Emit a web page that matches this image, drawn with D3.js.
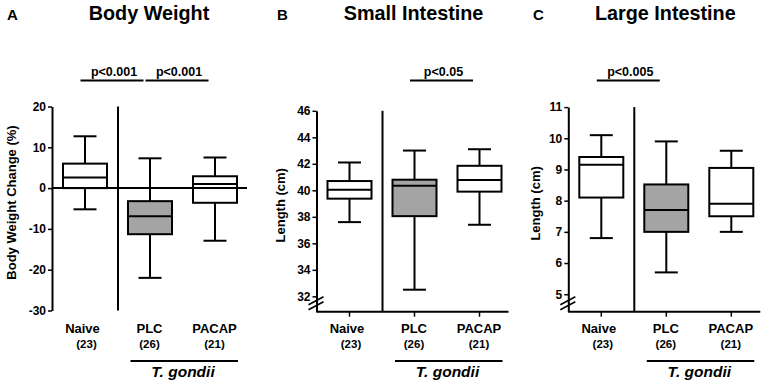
<!DOCTYPE html>
<html><head><meta charset="utf-8">
<script src="https://cdn.jsdelivr.net/npm/d3@7/dist/d3.min.js"></script>
<style>
html,body{margin:0;padding:0;background:#fff;}
svg text{font-family:"Liberation Sans",Arial,sans-serif;font-weight:bold;fill:#000;}
</style></head>
<body>
<svg id="chart" width="765" height="386"></svg>
<script>
// ---- data ----
const categories = ["Naive", "PLC", "PACAP"];
const groupSizes = ["(23)", "(26)", "(21)"];
const infectionLabel = "T. gondii";
// box stats: [whisker low, Q1, median, Q3, whisker high]
const bodyWeightStats = [[-5.2, 0, 2.6, 6.0, 12.7], [-22, -11.3, -6.9, -3.2, 7.3], [-12.9, -3.6, 1.0, 2.9, 7.5]];
const smallIntestineStats = [[37.6, 39.37, 40.05, 40.7, 42.1], [32.5, 38.05, 40.35, 40.8, 43.0], [37.4, 39.9, 40.77, 41.85, 43.1]];
const largeIntestineStats = [[6.8, 8.1, 9.15, 9.4, 10.1], [5.7, 7.0, 7.7, 8.52, 9.9], [7.0, 7.5, 7.9, 9.05, 9.6]];
const bodyWeightTicks = [-30, -20, -10, 0, 10, 20];
const smallIntestineTicks = [32, 34, 36, 38, 40, 42, 44, 46];
const largeIntestineTicks = [5, 6, 7, 8, 9, 10, 11];
const bodyWeightP = [{from: "Naive", to: "PLC", label: "p<0.001"}, {from: "PLC", to: "PACAP", label: "p<0.001"}];
const smallIntestineP = [{from: "PLC", to: "PACAP", label: "p<0.05"}];
const largeIntestineP = [{from: "Naive", to: "PLC", label: "p<0.005"}];
const fills = ["#ffffff", "#a4a4a4", "#ffffff"];

// ---- layout ----
const panels = [
  {letter: "A", title: "Body Weight", ylabel: "Body Weight Change (%)", ax: 52, stats: bodyWeightStats,
   ticks: bodyWeightTicks, domain: [-30, 20], range: [310.5, 106.5], pvals: bodyWeightP, broken: false, letterX: 7, labelOff: 36.5},
  {letter: "B", title: "Small Intestine", ylabel: "Length (cm)", ax: 316.5, stats: smallIntestineStats,
   ticks: smallIntestineTicks, domain: [30.84, 46], range: [311.7, 110.8], pvals: smallIntestineP, broken: true, letterX: 277, labelOff: 31.5},
  {letter: "C", title: "Large Intestine", ylabel: "Length (cm)", ax: 568.3, stats: largeIntestineStats,
   ticks: largeIntestineTicks, domain: [4.44, 11], range: [311.7, 107.1], pvals: largeIntestineP, broken: true, letterX: 533, labelOff: 28.3}
];

const svg = d3.select("#chart");
const W = 195, boxW = 44, capW = 23, sw = 2;

panels.forEach(p => {
  const g = svg.append("g");
  const y = d3.scaleLinear().domain(p.domain).range(p.range);
  const x = d3.scalePoint().domain(categories).range([p.ax, p.ax + W]).padding(0.5);
  const yTop = p.range[1], yBot = p.range[0];
  const cx = c => x(c) + 0.5;

  // panel letter & title
  g.append("text").attr("x", p.letterX).attr("y", 19.5).attr("font-size", 15).text(p.letter);
  g.append("text").attr("x", p.ax + 97).attr("y", 19.5).attr("text-anchor", "middle").attr("font-size", 19.8).text(p.title);

  // y axis
  const yAxis = d3.axisLeft(y).tickValues(p.ticks).tickFormat(d => String(d)).tickSize(4).tickSizeOuter(0).tickPadding(2);
  const ag = g.append("g").attr("transform", `translate(${p.ax},0)`).call(yAxis);
  ag.attr("font-size", 12).attr("font-family", null);
  ag.select(".domain").attr("stroke", "#000").attr("stroke-width", sw);
  ag.selectAll(".tick line").attr("stroke", "#000").attr("stroke-width", 1.5);
  ag.selectAll(".tick text").attr("fill", "#000");

  // y label
  g.append("text").attr("transform", `translate(${p.ax - p.labelOff},${(yTop + yBot) / 2 - 6}) rotate(-90)`)
    .attr("text-anchor", "middle").attr("font-size", 13).text(p.ylabel);

  // divider
  const divX = (x(categories[0]) + x(categories[1])) / 2 + 1;
  g.append("line").attr("x1", divX).attr("x2", divX).attr("y1", yTop).attr("y2", yBot)
    .attr("stroke", "#000").attr("stroke-width", sw);

  // boxes
  p.stats.forEach((s, i) => {
    const c = cx(categories[i]);
    const bg = g.append("g").attr("stroke", "#000").attr("stroke-width", sw);
    bg.append("line").attr("x1", c).attr("x2", c).attr("y1", y(s[4])).attr("y2", y(s[0]));
    bg.append("line").attr("x1", c - capW / 2).attr("x2", c + capW / 2).attr("y1", y(s[4])).attr("y2", y(s[4]));
    bg.append("line").attr("x1", c - capW / 2).attr("x2", c + capW / 2).attr("y1", y(s[0])).attr("y2", y(s[0]));
    bg.append("rect").attr("x", c - boxW / 2).attr("width", boxW).attr("y", y(s[3])).attr("height", y(s[1]) - y(s[3]))
      .attr("fill", fills[i]);
    bg.append("line").attr("x1", c - boxW / 2).attr("x2", c + boxW / 2).attr("y1", y(s[2])).attr("y2", y(s[2]));
  });

  // x axis / zero line
  if (!p.broken) {
    g.append("line").attr("x1", p.ax).attr("x2", p.ax + W).attr("y1", y(0)).attr("y2", y(0))
      .attr("stroke", "#000").attr("stroke-width", sw);
  } else {
    const xAxis = d3.axisBottom(x).tickSize(5).tickSizeOuter(0).tickFormat("");
    const xg = g.append("g").attr("transform", `translate(0,${yBot})`).call(xAxis);
    xg.select(".domain").attr("stroke", "#000").attr("stroke-width", sw).attr("d", `M${p.ax},0H${p.ax + W - 3}`);
    xg.selectAll(".tick line").attr("stroke", "#000").attr("stroke-width", 1.5);
    // break marks
    [0, 5].forEach(o => {
      g.append("line").attr("x1", p.ax - 8).attr("y1", yBot - 2 - o).attr("x2", p.ax + 7).attr("y2", yBot - 10 - o)
        .attr("stroke", "#000").attr("stroke-width", 1.6);
    });
  }

  // category labels
  categories.forEach((c, i) => {
    const dx = i === 0 ? -2 : 0, dx2 = i === 0 ? 2 : 0;
    g.append("text").attr("x", x(c) + dx).attr("y", 333).attr("text-anchor", "middle").attr("font-size", 13).text(c);
    g.append("text").attr("x", x(c) + dx2).attr("y", 348).attr("text-anchor", "middle").attr("font-size", 11.5).text(groupSizes[i]);
  });

  // infection bracket
  g.append("line").attr("x1", x("PLC") - 19).attr("x2", x("PACAP") + 23.5).attr("y1", 361).attr("y2", 361)
    .attr("stroke", "#000").attr("stroke-width", sw);
  g.append("text").attr("x", (x("PLC") + x("PACAP")) / 2 + 1).attr("y", 377).attr("text-anchor", "middle")
    .attr("font-size", 15.5).attr("font-style", "italic").text(infectionLabel);

  // p-values
  p.pvals.forEach(pv => {
    const x1 = x(pv.from) - 4, x2 = x(pv.to) - 6;
    g.append("line").attr("x1", x1).attr("x2", x2).attr("y1", 80.5).attr("y2", 80.5).attr("stroke", "#000").attr("stroke-width", sw);
    g.append("text").attr("x", (x1 + x2) / 2 + 2).attr("y", 76).attr("text-anchor", "middle").attr("font-size", 12.5).text(pv.label);
  });
});
</script>
</body></html>
